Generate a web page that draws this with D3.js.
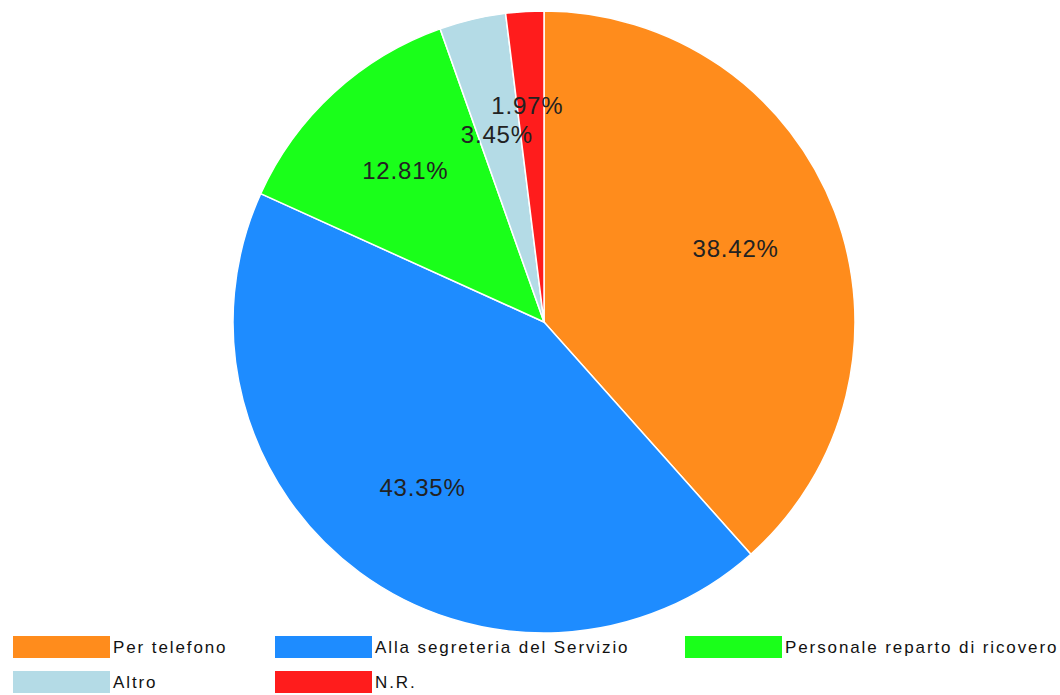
<!DOCTYPE html>
<html lang="it">
<head>
  <meta charset="UTF-8">
  <title>Modalità di prenotazione</title>
  <script src="https://d3js.org/d3.v7.min.js"></script>
  <style>
    body { margin: 0; background: #fff; }
    .slice { stroke: #fff; stroke-width: 1.5px; }
    .pct { font: 24px "Liberation Sans", Arial, sans-serif; fill: #222; letter-spacing: 0.8px; }
    .leg { font: 17px "Liberation Sans", Arial, sans-serif; fill: #111; letter-spacing: 1.9px; }
  </style>
</head>
<body>
<svg width="1060" height="695"></svg>
<script>
  const categories = ["Per telefono", "Alla segreteria del Servizio", "Personale reparto di ricovero", "Altro", "N.R."];
  const values = [38.42, 43.35, 12.81, 3.45, 1.97];
  const colors = ["#FF8C1C", "#1E8CFF", "#1AFF1A", "#B4DBE6", "#FF1C1C"];

  const svg = d3.select("svg");
  const cx = 544, cy = 322, radius = 311;

  const pie = d3.pie().sort(null).value(d => d.value);
  const data = categories.map((c, i) => ({ name: c, value: values[i], color: colors[i] }));
  const arcs = pie(data);

  const arc = d3.arc().innerRadius(0).outerRadius(radius);
  const labelArc = d3.arc().innerRadius(205).outerRadius(205);

  const g = svg.append("g").attr("transform", `translate(${cx},${cy})`);

  g.selectAll("path")
    .data(arcs)
    .join("path")
    .attr("class", "slice")
    .attr("d", arc)
    .attr("fill", d => d.data.color);

  // label positions, small neighbouring slices pushed apart vertically
  const pos = arcs.map(d => labelArc.centroid(d));
  const minGap = 29;
  for (let i = 1; i < pos.length; i++) {
    const a = pos[i - 1], b = pos[i];
    if (Math.abs(a[0] - b[0]) < 90 && Math.abs(a[1] - b[1]) < minGap) {
      const mid = (a[1] + b[1]) / 2;
      a[1] = mid + minGap / 2;
      b[1] = mid - minGap / 2;
      b[0] -= 4;
    }
  }

  g.selectAll("text")
    .data(arcs)
    .join("text")
    .attr("class", "pct")
    .attr("transform", (d, i) => `translate(${pos[i]})`)
    .attr("text-anchor", "middle")
    .attr("dy", "0.35em")
    .text(d => d.data.value.toFixed(2) + "%");

  // legend: 3 per row
  const colX = [13, 275, 685];
  const rowY = [636, 671];
  const legend = svg.append("g")
    .selectAll("g")
    .data(data)
    .join("g")
    .attr("transform", (d, i) => `translate(${colX[i % 3]},${rowY[Math.floor(i / 3)]})`);

  legend.append("rect")
    .attr("width", 97)
    .attr("height", 22)
    .attr("fill", d => d.color);

  legend.append("text")
    .attr("class", "leg")
    .attr("x", 100)
    .attr("y", 11)
    .attr("dy", "0.35em")
    .text(d => d.name);
</script>
</body>
</html>
